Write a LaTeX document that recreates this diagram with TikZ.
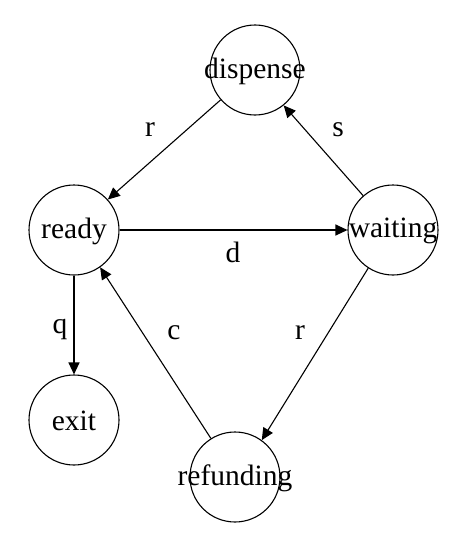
\documentclass[tikz,border=0pt]{standalone}
\usepackage{fontspec}
\setmainfont{Liberation Serif}
\usetikzlibrary{arrows.meta}
\begin{document}
\begin{tikzpicture}[x=1pt,y=-1pt,
  state/.style={draw, circle, line width=1.1pt, minimum size=90pt, inner sep=0pt},
  txt/.style={font=\fontsize{29.5}{34}\selectfont, inner sep=0pt},
  edge/.style={line width=1.1pt, -{Triangle[length=12pt,width=11pt]}}]
\useasboundingbox (0,0) rectangle (463,546);
\node[state] (dispense) at (255,70) {};
\node[state] (ready) at (74,230) {};
\node[state] (waiting) at (393,230) {};
\node[state] (exit) at (74,420) {};
\node[state] (refunding) at (235,477) {};
\node[txt] (tdispense) at (255,71) {dispense};
\node[txt] (tready) at (74,231) {ready};
\node[txt] (twaiting) at (393,231) {waiting};
\node[txt] (texit) at (74,421) {exit};
\node[txt] (trefunding) at (235,478) {refunding};
\draw[edge] (dispense.221) -- (ready.42);
\draw[edge] (waiting.131) -- (dispense.-51);
\draw[edge] (ready.east) -- (waiting.west);
\draw[edge] (waiting.237) -- (refunding.54);
\draw[edge] (refunding.122) -- (ready.-55);
\draw[edge] (ready.south) -- (exit.north);
\node[txt] (lr1) at (150,130) {r};
\node[txt] (ls) at (338,130) {s};
\node[txt] (ld) at (233,252) {d};
\node[txt] (lq) at (60,330) {q};
\node[txt] (lc) at (174,333) {c};
\node[txt] (lr2) at (300,333) {r};
\end{tikzpicture}
\end{document}
